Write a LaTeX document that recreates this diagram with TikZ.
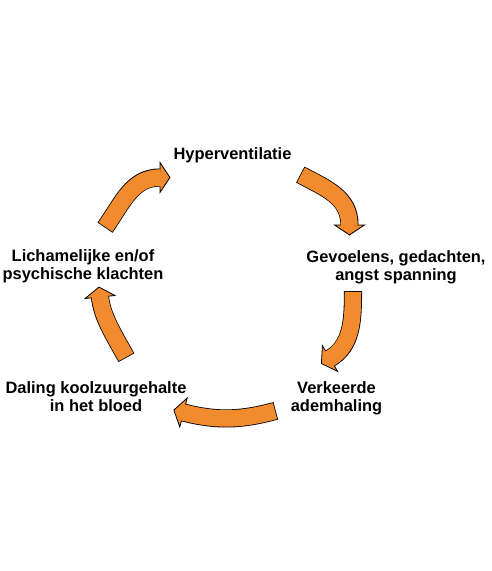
\documentclass[tikz,border=0pt]{standalone}
\usepackage{fontspec}
\setmainfont{Liberation Sans}
\usetikzlibrary{calc}
\definecolor{cycleorange}{RGB}{242,138,46}

% tail, two control points, base of the head
\newcommand{\cyclearrow}[4]{%
        \draw [shaftrim, shorten <=-0.8pt] (#1) .. controls (#2) and (#3) .. (#4);
        \filldraw [headfill] ($(#4)!15pt!90:(#3)$) -- ($(#4)!-10pt!(#3)$) -- ($(#4)!15pt!-90:(#3)$) -- cycle;
        \draw [shaftcore, shorten >=-1pt] (#1) .. controls (#2) and (#3) .. (#4);
}

\begin{document}
\begin{tikzpicture}[x=1bp, y=-1bp,
        stage/.style={font=\bfseries\fontsize{16.5}{18.5}\selectfont, align=center, anchor=base, inner sep=0pt},
        shaftrim/.style={black, line width=18.1bp},
        shaftcore/.style={cycleorange, line width=16.5bp},
        headfill/.style={fill=cycleorange, draw=black, line width=0.8bp, line join=miter}]
        \useasboundingbox [fill=white] (0,0) rectangle (492,571);
        \node [stage] (hyper) at (232.5,160) {Hyperventilatie};
        \node [stage] (gevoel) at (396,280.5) {Gevoelens, gedachten,\\angst spanning};
        \node [stage] (verkeerd) at (336.5,411.7) {Verkeerde\\ademhaling};
        \node [stage] (daling) at (96,411.7) {Daling koolzuurgehalte\\in het bloed};
        \node [stage] (lichaam) at (83,279.5) {Lichamelijke en/of\\psychische klachten};
        \coordinate (a1tail) at (105.5,227);
        \coordinate (a1head) at (160,177.5);
        \coordinate (a2tail) at (301,175);
        \coordinate (a2head) at (349.5,225);
        \coordinate (a3tail) at (353,292);
        \coordinate (a3head) at (330,358.5);
        \coordinate (a4tail) at (275,411);
        \coordinate (a4head) at (183.5,412.5);
        \coordinate (a5tail) at (126,357);
        \coordinate (a5head) at (100,297);
        \cyclearrow{a1tail}{122.7,202.4}{132,177.5}{a1head}
        \cyclearrow{a2tail}{325.6,188.2}{349.5,197}{a2head}
        \cyclearrow{a3tail}{353,322}{351.5,345.8}{a3head}
        \cyclearrow{a4tail}{241.4,420.1}{217.5,421.25}{a4head}
        \cyclearrow{a5tail}{114,335}{102,317}{a5head}
\end{tikzpicture}
\end{document}
